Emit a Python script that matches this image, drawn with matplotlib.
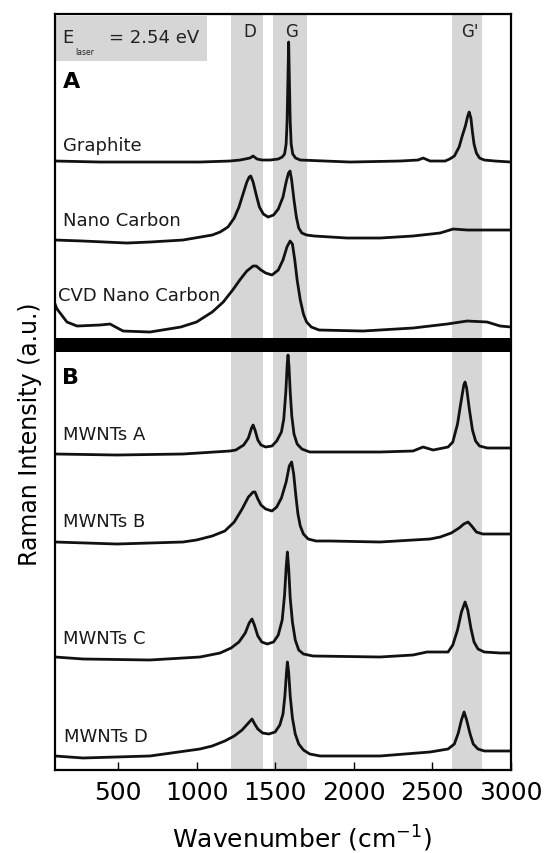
import matplotlib
matplotlib.use("Agg")
import matplotlib.pyplot as plt

plt.rcParams['font.family'] = ['DejaVu Sans']

# ---- data (wavenumber in cm-1, intensity above own baseline, a.u.) ----
names = ["Graphite", "Nano Carbon", "CVD Nano Carbon",
         "MWNTs A", "MWNTs B", "MWNTs C", "MWNTs D"]

graphite_wn = [100, 386, 704, 1022, 1213, 1277, 1340, 1360, 1385, 1417, 1468, 1520, 1545,
               1560, 1570, 1576, 1581, 1586, 1591, 1596, 1602, 1612, 1630, 1660, 1977,
               2295, 2409, 2441, 2486, 2581, 2610, 2640, 2670, 2690, 2710, 2725, 2734,
               2745, 2755, 2765, 2780, 2800, 2830, 2899, 3000]
graphite_i = [1, 0, 0, 0, 1, 2, 4, 6, 3, 2, 2, 3, 5,
              8, 18, 40, 80, 120, 80, 40, 18, 8, 4, 2, 0,
              1, 2, 4, 1, 1, 3, 6, 15, 26, 36, 46, 50,
              44, 30, 18, 9, 4, 2, 1, 0]

nano_wn = [100, 278, 558, 704, 914, 1100, 1150, 1200, 1240, 1270, 1300, 1320, 1335, 1345,
           1360, 1380, 1400, 1425, 1455, 1490, 1520, 1550, 1570, 1585, 1595, 1605, 1620,
           1635, 1650, 1670, 1700, 1750, 1957, 2167, 2377, 2549, 2632, 2721, 2848, 3000]
nano_i = [2, 1, -1, 0, 2, 7, 10, 15, 24, 35, 50, 60, 65, 66,
          60, 47, 35, 28, 25, 27, 33, 45, 60, 69, 71, 62, 42,
          25, 14, 9, 7, 6, 4, 4, 6, 9, 13, 12, 12, 12]

cvd_wn = [100, 113, 176, 240, 386, 450, 533, 704, 900, 1000, 1100, 1170, 1230, 1280, 1320,
          1360, 1380, 1410, 1440, 1480, 1520, 1550, 1575, 1595, 1610, 1625, 1640, 1660,
          1680, 1700, 1730, 1780, 2059, 2377, 2594, 2721, 2848, 2931, 3000]
cvd_i = [28, 23, 10, 6, 7, 8, 1, 0, 5, 10, 20, 30, 42, 53, 61,
         66, 66, 62, 59, 57, 62, 72, 85, 91, 88, 72, 52, 32,
         18, 10, 5, 2, 1, 4, 8, 11, 10, 6, 5]

mwa_wn = [100, 494, 914, 1213, 1250, 1300, 1330, 1350, 1360, 1372, 1390, 1410, 1440, 1480,
          1510, 1540, 1555, 1568, 1577, 1582, 1588, 1596, 1606, 1620, 1640, 1670, 1720,
          2167, 2377, 2441, 2505, 2600, 2630, 2660, 2680, 2700, 2708, 2718, 2735, 2755,
          2775, 2800, 2850, 2931, 3000]
mwa_i = [0, -1, 0, 3, 4, 9, 16, 26, 29, 24, 14, 9, 7, 8,
         13, 22, 35, 62, 90, 99, 88, 62, 38, 20, 10, 5, 2,
         2, 3, 7, 4, 7, 12, 30, 50, 69, 72, 66, 45, 24,
         13, 8, 6, 6, 6]

mwb_wn = [100, 494, 914, 1000, 1100, 1180, 1240, 1290, 1330, 1360, 1372, 1390, 1410, 1440,
          1480, 1510, 1540, 1570, 1590, 1605, 1618, 1632, 1645, 1660, 1680, 1710, 1760,
          1849, 2167, 2486, 2550, 2620, 2670, 2700, 2727, 2750, 2780, 2820, 2931, 3000]
mwb_i = [2, 0, 2, 4, 8, 13, 22, 35, 47, 52, 52, 45, 39, 35,
         33, 37, 46, 62, 78, 82, 70, 48, 30, 18, 10, 5, 3,
         3, 2, 5, 7, 11, 16, 20, 22, 18, 12, 10, 10, 10]

mwc_wn = [100, 278, 704, 1022, 1150, 1220, 1270, 1310, 1335, 1353, 1368, 1390, 1415, 1450,
          1490, 1520, 1545, 1560, 1570, 1578, 1586, 1596, 1610, 1628, 1650, 1680, 1740,
          2167, 2377, 2466, 2600, 2630, 2660, 2685, 2708, 2725, 2745, 2765, 2790, 2830,
          2931, 3000]
mwc_i = [3, 1, 0, 3, 7, 12, 18, 27, 37, 41, 35, 24, 18, 16,
         18, 25, 40, 65, 92, 108, 92, 62, 38, 20, 10, 6, 4,
         3, 5, 8, 8, 15, 30, 48, 58, 50, 32, 18, 11, 8,
         7, 7]

mwd_wn = [100, 278, 704, 1022, 1100, 1180, 1240, 1290, 1330, 1353, 1370, 1390, 1420, 1460,
          1500, 1530, 1550, 1562, 1572, 1578, 1586, 1596, 1610, 1628, 1650, 1680, 1720,
          1786, 2167, 2486, 2600, 2640, 2665, 2685, 2702, 2718, 2740, 2760, 2790, 2830,
          2931, 3000]
mwd_i = [2, 0, 2, 9, 12, 17, 22, 28, 35, 39, 34, 29, 25, 24,
         26, 33, 44, 62, 85, 96, 86, 62, 40, 24, 14, 8, 4,
         2, 2, 6, 9, 14, 25, 38, 46, 38, 24, 14, 9, 7,
         7, 7]

spectra = [(graphite_wn, graphite_i), (nano_wn, nano_i), (cvd_wn, cvd_i),
           (mwa_wn, mwa_i), (mwb_wn, mwb_i), (mwc_wn, mwc_i), (mwd_wn, mwd_i)]

# vertical stacking offsets (a.u.)
offsets = [608, 528, 438, 316, 226, 110, 12]
label_y = [625, 550, 475, 336, 249, 132, 34]
label_x = [151, 151, 119, 151, 151, 151, 160]

# band regions (cm-1)
bands = {"D": (1220, 1425), "G": (1487, 1703), "G'": (2625, 2815)}
band_label_x = {"D": 1340, "G": 1605, "G'": 2740}

xticks = [500, 1000, 1500, 2000, 2500, 3000]

# ---- figure ----
fig = plt.figure(figsize=(5.44, 8.54), dpi=100)
ax = fig.add_axes([0.1011, 0.0972, 0.8382, 0.8852])
ax.set_xlim(100, 3000)
ax.set_ylim(0, 756)

for name, (lo, hi) in bands.items():
    ax.axvspan(lo, hi, color='#d6d6d6', lw=0, zorder=0)
    ax.text(band_label_x[name], 739, name, fontsize=12, ha='center', va='center', color='#222222')

# E_laser box
ax.fill_between([100, 1067], 709, 754, color='#d6d6d6', lw=0, zorder=0)
ax.text(145, 733, "E", fontsize=13, ha='left', va='center', color='#222222')
ax.text(227, 719, "laser", fontsize=5.5, ha='left', va='center', color='#222222')
ax.text(444, 733, "= 2.54 eV", fontsize=13, ha='left', va='center', color='#222222')

# panel separator
ax.axhspan(418, 432, color='black', lw=0, zorder=3)

for (wn, inten), off, name, lx, ly in zip(spectra, offsets, names, label_x, label_y):
    ax.plot(wn, [v + off for v in inten], color='#111111', lw=2.0, zorder=2,
            solid_joinstyle='round')
    ax.text(lx, ly, name, fontsize=13, ha='left', va='center', color='#1a1a1a', zorder=4)

ax.text(151, 689, "A", fontsize=16, fontweight='bold', ha='left', va='center')
ax.text(145, 393, "B", fontsize=16, fontweight='bold', ha='left', va='center')

ax.set_xticks(xticks)
ax.set_yticks([])
ax.tick_params(axis='x', direction='in', length=6, width=1, labelsize=18, pad=7)
for s in ax.spines.values():
    s.set_linewidth(1.6)

ax.set_xlabel(r'Wavenumber (cm$^{-1}$)', fontsize=18)
ax.xaxis.set_label_coords(0.542, -0.070)
ax.set_ylabel('Raman Intensity (a.u.)', fontsize=17)
ax.yaxis.set_label_coords(-0.0285, 0.446)

fig.savefig("out.png", dpi=100)
